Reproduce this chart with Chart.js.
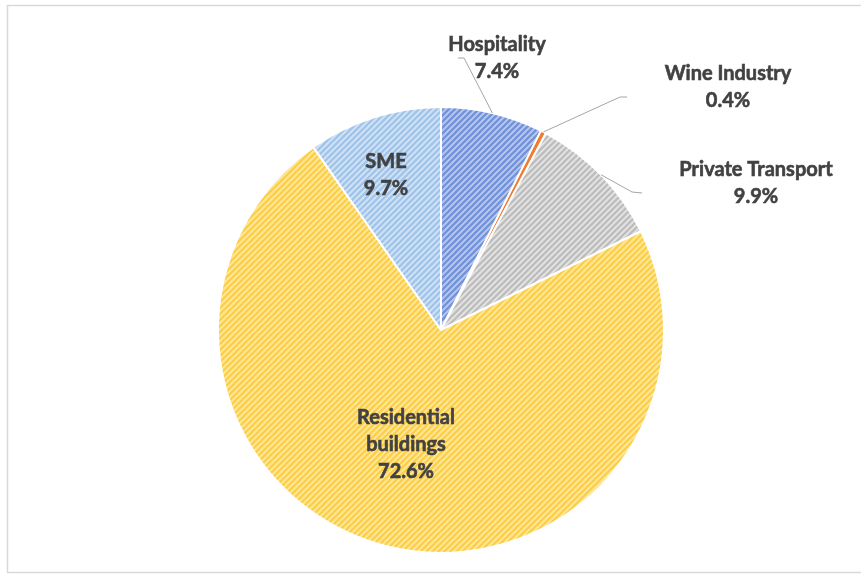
<!DOCTYPE html>
<html>
<head>
<meta charset="utf-8">
<script src="https://cdn.jsdelivr.net/npm/chart.js@4.4.0/dist/chart.umd.min.js"></script>
<style>
  html, body { margin: 0; padding: 0; background: #fff; overflow: hidden; }
  #wrap { width: 861px; height: 575px; position: relative; }
</style>
</head>
<body>
<div id="wrap"><canvas id="c"></canvas></div>
<script>
// Energy demand share by sector (%)
const categories = ['Hospitality', 'Wine Industry', 'Private Transport', 'Residential buildings', 'SME'];
const shares = [7.4, 0.4, 9.9, 72.6, 9.7];

// Stripe colours per sector: [background, stripe]
const stripeColors = [
  ['#b9c9ef', '#7393d8'],
  null,
  ['#e4e4e4', '#bdbdbd'],
  ['#fde8a2', '#fbce4c'],
  ['#d2e3f5', '#a2c4e8']
];
const solidColors = [null, '#ed7d31', null, null, null];

// Label placement, offsets from the pie centre (px)
const labelPlacement = [
  { dx: 56,  dy: -285, elbow: [23, -272],  end: [17, -272] },
  { dx: 287, dy: -256, elbow: [179, -233], end: [186, -233] },
  { dx: 315, dy: -160, elbow: [191, -138], end: [201, -137] },
  { dx: -35, dy: 88,   wrap: true },
  { dx: -55, dy: -168 }
];

function stripes(bg, fg) {
  const s = 6;
  const c = document.createElement('canvas');
  c.width = c.height = s;
  const g = c.getContext('2d');
  g.fillStyle = bg;
  g.fillRect(0, 0, s, s);
  g.strokeStyle = fg;
  g.lineWidth = 2.3;
  g.beginPath();
  g.moveTo(-1, s + 1); g.lineTo(s + 1, -1);
  g.moveTo(-1, 1); g.lineTo(1, -1);
  g.moveTo(s - 1, s + 1); g.lineTo(s + 1, s - 1);
  g.stroke();
  return g.createPattern(c, 'repeat');
}

const fills = categories.map((_, i) => solidColors[i] || stripes(stripeColors[i][0], stripeColors[i][1]));

const framePlugin = {
  id: 'frame',
  beforeDraw(chart) {
    const ctx = chart.ctx;
    ctx.save();
    ctx.fillStyle = '#ffffff';
    ctx.fillRect(0, 0, chart.width, chart.height);
    ctx.strokeStyle = '#d9d9d9';
    ctx.lineWidth = 1.5;
    ctx.strokeRect(7.5, 5.5, 900, 567);
    ctx.restore();
  }
};

const labelPlugin = {
  id: 'sliceLabels',
  afterDatasetsDraw(chart) {
    const ctx = chart.ctx;
    const meta = chart.getDatasetMeta(0);
    ctx.save();
    ctx.font = 'bold 20px Lato';
    ctx.fillStyle = '#424242';
    ctx.textAlign = 'center';
    ctx.textBaseline = 'middle';
    const lineH = 27;
    meta.data.forEach((arc, i) => {
      const p = arc.getProps(['x', 'y', 'startAngle', 'endAngle', 'outerRadius'], true);
      const place = labelPlacement[i];
      const cx = p.x, cy = p.y;
      if (place.elbow) {
        const mid = (p.startAngle + p.endAngle) / 2;
        const sx = cx + Math.cos(mid) * p.outerRadius;
        const sy = cy + Math.sin(mid) * p.outerRadius;
        ctx.strokeStyle = '#a6a6a6';
        ctx.lineWidth = 1;
        ctx.beginPath();
        ctx.moveTo(sx, sy);
        ctx.lineTo(cx + place.elbow[0], cy + place.elbow[1]);
        ctx.lineTo(cx + place.end[0], cy + place.end[1]);
        ctx.stroke();
      }
      const name = categories[i];
      const lines = place.wrap ? name.split(' ') : [name];
      lines.push(shares[i].toFixed(1) + '%');
      ctx.strokeStyle = '#424242';
      ctx.lineWidth = 0.6;
      lines.forEach((t, k) => {
        const tx = cx + place.dx, ty = cy + place.dy + k * lineH;
        ctx.fillText(t, tx, ty);
        ctx.strokeText(t, tx, ty);
      });
    });
    ctx.restore();
  }
};

new Chart(document.getElementById('c'), {
  type: 'pie',
  data: {
    labels: categories,
    datasets: [{
      data: shares,
      backgroundColor: fills,
      borderColor: '#ffffff',
      borderWidth: 2
    }]
  },
  options: {
    responsive: true,
    maintainAspectRatio: false,
    animation: false,
    radius: 223,
    layout: { padding: { left: 21, right: 0, top: 85, bottom: 0 } },
    plugins: {
      legend: { display: false },
      tooltip: { enabled: false },
      title: { display: false }
    }
  },
  plugins: [framePlugin, labelPlugin]
});
</script>
</body>
</html>
